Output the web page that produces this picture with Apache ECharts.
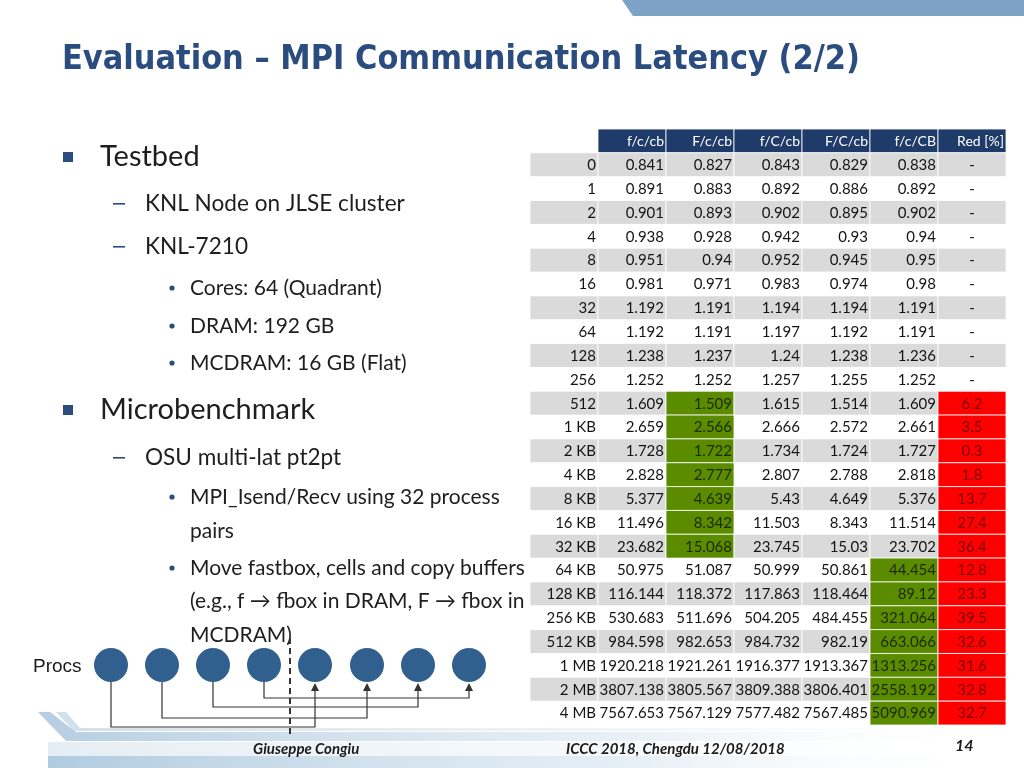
<!DOCTYPE html>
<html>
<head>
<meta charset="utf-8">
<script src="https://cdn.jsdelivr.net/npm/echarts@6/dist/echarts.min.js"></script>
<style>html,body{margin:0;padding:0;background:#fff;}#c{width:1024px;height:768px;}</style>
</head>
<body>
<div id="c"></div>
<script>
// ---- data ----
const sizes = ['0','1','2','4','8','16','32','64','128','256','512','1 KB','2 KB','4 KB','8 KB','16 KB','32 KB','64 KB','128 KB','256 KB','512 KB','1 MB','2 MB','4 MB'];
const headers = ['f/c/cb','F/c/cb','f/C/cb','F/C/cb','f/c/CB','Red [%]'];
const fccb = [0.841,0.891,0.901,0.938,0.951,0.981,1.192,1.192,1.238,1.252,1.609,2.659,1.728,2.828,5.377,11.496,23.682,50.975,116.144,530.683,984.598,1920.218,3807.138,7567.653];
const Fccb = [0.827,0.883,0.893,0.928,0.94,0.971,1.191,1.191,1.237,1.252,1.509,2.566,1.722,2.777,4.639,8.342,15.068,51.087,118.372,511.696,982.653,1921.261,3805.567,7567.129];
const fCcb = [0.843,0.892,0.902,0.942,0.952,0.983,1.194,1.197,1.24,1.257,1.615,2.666,1.734,2.807,5.43,11.503,23.745,50.999,117.863,504.205,984.732,1916.377,3809.388,7577.482];
const FCcb = [0.829,0.886,0.895,0.93,0.945,0.974,1.194,1.192,1.238,1.255,1.514,2.572,1.724,2.788,4.649,8.343,15.03,50.861,118.464,484.455,982.19,1913.367,3806.401,7567.485];
const fcCB = [0.838,0.892,0.902,0.94,0.95,0.98,1.191,1.191,1.236,1.252,1.609,2.661,1.727,2.818,5.376,11.514,23.702,44.454,89.12,321.064,663.066,1313.256,2558.192,5090.969];
const reduction = [null,null,null,null,null,null,null,null,null,null,6.2,3.5,0.3,1.8,13.7,27.4,36.4,12.8,23.3,39.5,32.6,31.6,32.8,32.7];
// highlighted (best) configuration column per row: 1=F/c/cb, 4=f/c/CB (index into headers)
const bestCol = [null,null,null,null,null,null,null,null,null,null,1,1,1,1,1,1,1,4,4,4,4,4,4,4];

// ---- build cells ----
const cols = [fccb, Fccb, fCcb, FCcb, fcCB];
const xCats = ['size'].concat(headers);
const yCats = ['head'].concat(sizes);
const cells = [];
headers.forEach((h, i) => cells.push([i + 1, 0, h, 'head']));
sizes.forEach((s, r) => {
  const band = r % 2 === 0 ? 'gray' : 'white';
  cells.push([0, r + 1, s, band]);
  cols.forEach((arr, c) => {
    const kind = bestCol[r] === c ? 'green' : band;
    cells.push([c + 1, r + 1, String(arr[r]), kind]);
  });
  cells.push([6, r + 1, reduction[r] === null ? '-' : String(reduction[r]), reduction[r] === null ? band : 'red']);
});

const fills = { head: '#1F3B69', gray: '#DADADA', white: '#FFFFFF', green: '#5B8C00', red: '#FF0000' };
const inks = { head: '#FFFFFF', gray: '#141414', white: '#141414', green: '#1C2A00', red: '#7A0000' };

const chart = echarts.init(document.getElementById('c'), null, { renderer: 'canvas' });

const bodyFont = 'Lato';
const txtColor = '#1E1E1E';
const accent = '#2A4C7F';

function txt(x, y, s, size, extra) {
  return { type: 'text', x: x, y: y, style: Object.assign({ text: s, fontFamily: bodyFont, fontSize: size, fill: txtColor, verticalAlign: 'middle' }, extra || {}) };
}

// title fitting (layout only)
const titleText = 'Evaluation – MPI Communication Latency (2/2)';
const mctx = document.createElement('canvas').getContext('2d');
mctx.font = 'bold 34px "DejaVu Sans Condensed"';
const titleScale = Math.min(1.05, 798 / Math.max(1, mctx.measureText(titleText).width));

const graphics = [];
// top banner
graphics.push({ type: 'polygon', shape: { points: [[622,0],[1024,0],[1024,16],[633,16]] }, style: { fill: '#7DA2C5' } });
// footer swoosh
const fadeGrad = (a) => new echarts.graphic.LinearGradient(0, 0, 1, 0, [{ offset: 0, color: 'rgba(150,185,212,' + a + ')' }, { offset: 0.6, color: 'rgba(190,212,230,' + (a * 0.5) + ')' }, { offset: 1, color: 'rgba(255,255,255,0)' }]);
graphics.push({ type: 'polygon', shape: { points: [[38,712],[50,712],[76,732],[1024,732],[1024,741],[66,741]] }, style: { fill: fadeGrad(0.7) } });
graphics.push({ type: 'polygon', shape: { points: [[56,712],[66,712],[80,728],[1024,728],[1024,731],[74,731]] }, style: { fill: fadeGrad(0.45) } });
graphics.push({ type: 'rect', shape: { x: 48, y: 756, width: 976, height: 12 }, style: { fill: fadeGrad(0.75) } });
graphics.push({ type: 'rect', shape: { x: 48, y: 742, width: 976, height: 14 }, style: { fill: fadeGrad(0.25) } });

// title
graphics.push({ type: 'text', x: 62, y: 60, scaleX: titleScale, style: { text: titleText, fontFamily: 'DejaVu Sans Condensed', fontWeight: 'bold', fontSize: 34, fill: accent, verticalAlign: 'middle' } });

// bullets
function square(y) { return { type: 'rect', shape: { x: 63, y: y - 5, width: 10, height: 10 }, style: { fill: accent } }; }
function dash(y) { return { type: 'rect', shape: { x: 113, y: y - 1, width: 12, height: 1.6 }, style: { fill: accent } }; }
function dot(y) { return { type: 'circle', shape: { cx: 172, cy: y, r: 2.6 }, style: { fill: accent } }; }
graphics.push(square(157), txt(100, 157, 'Testbed', 29));
graphics.push(dash(204), txt(145, 204, 'KNL Node on JLSE cluster', 22.6));
graphics.push(dash(247), txt(145, 247, 'KNL-7210', 22.6));
graphics.push(dot(288), txt(190, 288, 'Cores: 64 (Quadrant)', 21));
graphics.push(dot(326), txt(190, 326, 'DRAM: 192 GB', 21));
graphics.push(dot(363), txt(190, 363, 'MCDRAM: 16 GB (Flat)', 21));
graphics.push(square(410), txt(100, 410, 'Microbenchmark', 29));
graphics.push(dash(458), txt(145, 458, 'OSU multi-lat pt2pt', 22.6));
graphics.push(dot(497), txt(190, 497, 'MPI_Isend/Recv using 32 process', 21));
graphics.push(txt(190, 531, 'pairs', 21));
graphics.push(dot(568), txt(190, 568, 'Move fastbox, cells and copy buffers', 21));
graphics.push(txt(190, 601, '(e.g., f → fbox in DRAM, F → fbox in', 21));
graphics.push(txt(190, 635, 'MCDRAM)', 21));

// procs diagram
graphics.push(txt(33, 667, 'Procs', 19, { fontFamily: 'Liberation Sans', fill: '#1A1A1A' }));
const cx = [111, 162, 213, 264, 315, 367, 418, 469];
const levels = [727, 718, 707, 698];
for (let i = 0; i < 4; i++) {
  graphics.push({ type: 'polyline', shape: { points: [[cx[i], 682], [cx[i], levels[i]], [cx[i + 4], levels[i]], [cx[i + 4], 690]] }, style: { stroke: '#333', lineWidth: 1.2, fill: null } });
  graphics.push({ type: 'polygon', shape: { points: [[cx[i + 4] - 4, 691], [cx[i + 4] + 4, 691], [cx[i + 4], 683]] }, style: { fill: '#333' } });
}
cx.forEach(x => graphics.push({ type: 'circle', shape: { cx: x, cy: 665, r: 17 }, style: { fill: '#31608F' } }));
graphics.push({ type: 'line', shape: { x1: 290, y1: 638, x2: 290, y2: 734 }, style: { stroke: '#333', lineWidth: 2, lineDash: [6, 4] } });

// footer texts
graphics.push(txt(253, 749, 'Giuseppe Congiu', 15, { fontStyle: 'italic', fontWeight: 'bold', fill: '#1A1A1A' }));
graphics.push(txt(566, 749, 'ICCC 2018, Chengdu 12/08/2018', 15, { fontStyle: 'italic', fontWeight: 'bold', fill: '#1A1A1A' }));
graphics.push(txt(955, 746, '14', 16, { fontStyle: 'italic', fontWeight: 'bold', fill: '#1A1A1A' }));

const option = {
  animation: false,
  backgroundColor: '#fff',
  grid: { left: 530, width: 476, top: 129, height: 596, containLabel: false },
  xAxis: { type: 'category', data: xCats, show: false },
  yAxis: { type: 'category', data: yCats, inverse: true, show: false },
  series: [{
    type: 'custom',
    coordinateSystem: 'cartesian2d',
    data: cells,
    encode: { x: 0, y: 1 },
    renderItem: function (params, api) {
      const c = api.value(0), r = api.value(1);
      const p = api.coord([c, r]);
      const s = api.size([1, 1]);
      const kind = cells[params.dataIndex][3];
      const text = cells[params.dataIndex][2];
      const x0 = p[0] - s[0] / 2, y0 = p[1] - s[1] / 2;
      const center = c === 6 && kind !== 'head';
      return {
        type: 'group',
        children: [
          { type: 'rect', shape: { x: x0, y: y0, width: s[0], height: s[1] }, style: { fill: fills[kind], stroke: kind === 'white' ? null : '#FFFFFF', lineWidth: 0.8 } },
          { type: 'text', x: center ? p[0] : x0 + s[0] - 2, y: p[1] + 0.5, style: { text: text, fontFamily: bodyFont, fontSize: kind === 'head' ? 14 : 15, fill: inks[kind], align: center ? 'center' : 'right', verticalAlign: 'middle' } }
        ]
      };
    }
  }],
  graphic: graphics
};
chart.setOption(option);
</script>
</body>
</html>
